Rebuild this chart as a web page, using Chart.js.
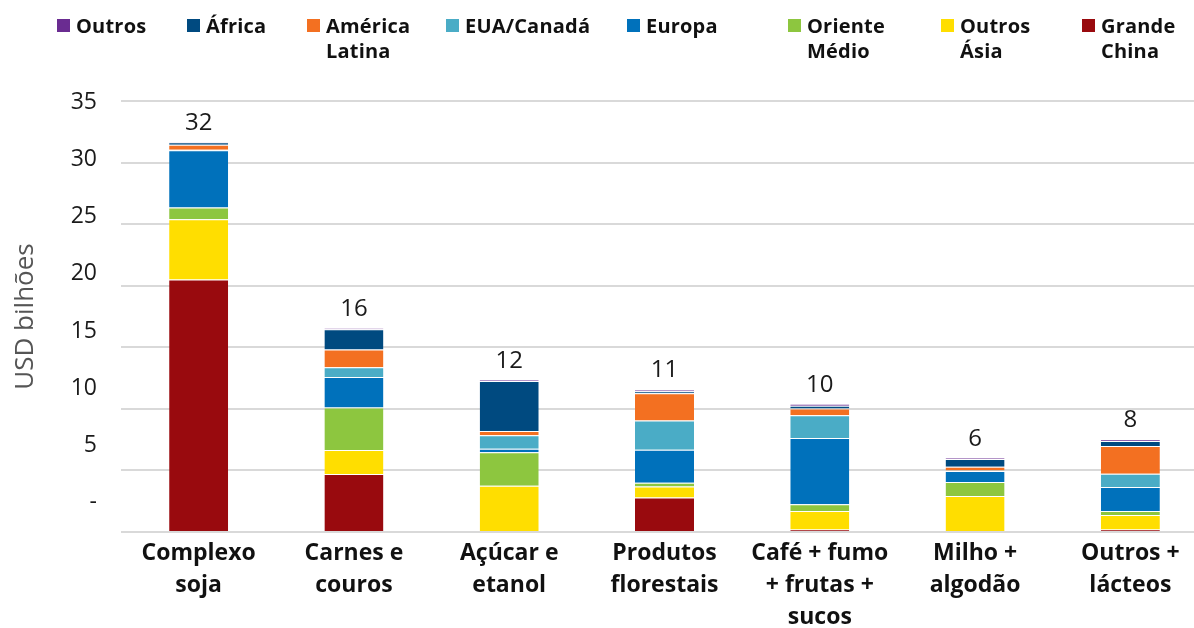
<!DOCTYPE html>
<html lang="pt">
<head>
<meta charset="utf-8">
<title>Exportações por destino</title>
<script src="https://cdn.jsdelivr.net/npm/chart.js@4.4.1/dist/chart.umd.min.js"></script>
<style>
  html, body { margin: 0; padding: 0; background: #fff; overflow: hidden; }
  #wrap { position: relative; width: 1194px; height: 628px; overflow: hidden; }
  #grafico { position: absolute; left: 0; top: 0; }
  .leg { position: absolute; top: 13px; font: bold 20px "Open Sans", sans-serif; line-height: 25px;
         color: #111; white-space: pre-line; letter-spacing: 0.2px; }
  .leg i { position: absolute; left: -19px; top: 6px; width: 13px; height: 13px; }
</style>
</head>
<body>
<div id="wrap">
  <canvas id="grafico" width="1208" height="628"></canvas>
</div>
<script>
// categorias (eixo x)
const categorias = [
  ["Complexo", "soja"],
  ["Carnes e", "couros"],
  ["Açúcar e", "etanol"],
  ["Produtos", "florestais"],
  ["Café + fumo", "+ frutas +", "sucos"],
  ["Milho +", "algodão"],
  ["Outros +", "lácteos"]
];

// valores por destino, USD bilhões
const grandeChina   = [20.5, 4.7,  0,    2.8,  0.2,  0,    0.2];
const outrosAsia    = [4.9,  1.95, 3.76, 0.9,  1.5,  2.92, 1.18];
const orienteMedio  = [0.95, 3.47, 2.71, 0.3,  0.55, 1.14, 0.32];
const europa        = [4.65, 2.47, 0.3,  2.68, 5.39, 0.89, 1.96];
const euaCanada     = [0.05, 0.78, 1.08, 2.38, 1.84, 0.05, 1.08];
const americaLatina = [0.4,  1.46, 0.35, 2.2,  0.54, 0.3,  2.25];
const africa        = [0.2,  1.63, 4.07, 0.16, 0.24, 0.62, 0.4];
const outros        = [0.05, 0.08, 0.08, 0.16, 0.14, 0.1,  0.14];

// rótulos de total acima das barras
const totais = ["32", "16", "12", "11", "10", "6", "8"];

// eixo y
const yTicks = [0, 5, 10, 15, 20, 25, 30, 35];
const yTickLabels = ["-", "5", "10", "15", "20", "25", "30", "35"];

// ordem de empilhamento: de baixo para cima
const nomes = ["Grande China", "Outros Ásia", "Oriente Médio", "Europa", "EUA/Canadá", "América Latina", "África", "Outros"];
const valores = [grandeChina, outrosAsia, orienteMedio, europa, euaCanada, americaLatina, africa, outros];
const cores = ["#990a0e", "#ffde00", "#8dc63f", "#0071bb", "#4aacc6", "#f37021", "#004a80", "#6a2c91"];

// posição (x do texto) dos itens da legenda, na ordem exibida
const legendaX = [76, 206, 326, 465, 646, 807, 960, 1101];

const fonte = '"Open Sans", sans-serif';

const datasets = nomes.map((nome, i) => ({
  label: nome,
  data: valores[i],
  backgroundColor: cores[i],
  borderColor: "rgba(255,255,255,0.35)",
  borderWidth: { top: 1 },
  borderSkipped: false,
  barPercentage: 0.38,
  categoryPercentage: 1
}));

// legenda em HTML (ordem inversa do empilhamento)
const wrap = document.getElementById("wrap");
datasets.slice().reverse().forEach((ds, i) => {
  const div = document.createElement("div");
  div.className = "leg";
  div.style.left = legendaX[i] + "px";
  div.textContent = ds.label.replace(" ", "\n");
  const sq = document.createElement("i");
  sq.style.background = ds.backgroundColor;
  div.appendChild(sq);
  wrap.appendChild(div);
});

// total acima de cada barra
const rotulosTotais = {
  id: "rotulosTotais",
  afterDatasetsDraw(chart) {
    const ctx = chart.ctx;
    const y = chart.scales.y;
    const x = chart.scales.x;
    ctx.save();
    ctx.font = "24px " + fonte;
    ctx.fillStyle = "#1a1a1a";
    ctx.textAlign = "center";
    ctx.textBaseline = "alphabetic";
    categorias.forEach((c, i) => {
      const soma = valores.reduce((s, arr) => s + arr[i], 0);
      ctx.fillText(totais[i], x.getPixelForValue(i), y.getPixelForValue(soma) - 12);
    });
    ctx.restore();
  }
};

new Chart(document.getElementById("grafico"), {
  type: "bar",
  data: { labels: categorias, datasets: datasets },
  plugins: [rotulosTotais],
  options: {
    responsive: false,
    animation: false,
    layout: { padding: { top: 101, left: 0, right: 0, bottom: 0 } },
    plugins: { legend: { display: false }, tooltip: { enabled: false } },
    scales: {
      x: {
        stacked: true,
        grid: { display: false, drawTicks: false },
        border: { display: false },
        ticks: {
          color: "#111",
          font: { family: fonte, size: 23, weight: "bold", lineHeight: 32 / 23 },
          padding: 5,
          maxRotation: 0,
          autoSkip: false
        },
        afterFit: s => { s.height = 96; }
      },
      y: {
        stacked: true,
        min: 0,
        max: 35,
        ticks: { stepSize: 5, display: false },
        grid: { color: "#d9d9d9", lineWidth: 2, drawTicks: false },
        border: { display: false },
        afterFit: s => { s.width = 0; }
      },
      yRotulos: {
        position: "left",
        min: -2.6,
        max: 35.14,
        grid: { display: false, drawTicks: false },
        border: { display: false },
        afterBuildTicks: s => { s.ticks = yTicks.map(v => ({ value: v })); },
        ticks: {
          color: "#1a1a1a",
          font: { family: fonte, size: 23 },
          padding: 24,
          callback: (v, i) => yTickLabels[i]
        },
        title: {
          display: true,
          text: "USD bilhões",
          color: "#555",
          font: { family: fonte, size: 26 },
          padding: { top: 10, bottom: 0 }
        },
        afterFit: s => { s.width = 121; }
      }
    }
  }
});
</script>
</body>
</html>
